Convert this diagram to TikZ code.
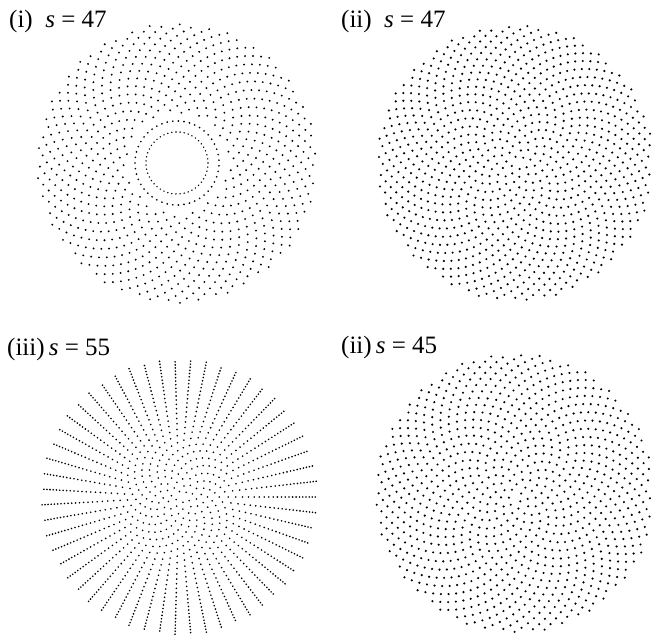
\documentclass[tikz,border=0pt]{standalone}
\usepackage{fontspec}
\setmainfont{Liberation Serif}
\usetikzlibrary{positioning}

\begin{document}
\begin{tikzpicture}[x=1pt,y=-1pt,
  seed/.style={fill=black},
  tag/.style={anchor=base west,inner sep=0pt,font=\fontsize{25}{30}\selectfont}]
\useasboundingbox (0,0) rectangle (651,639);
% (i) two rings of 47, then the spiral
\node[tag] (labA) at (9,28) {(i)\ \ \textit{s} = 47};
\begin{scope}[shift={(177,163)}]
\foreach \k in {1,...,47}
  \fill[seed] ({\fpeval{round(31*cosd(\k*360/47),3)}},{\fpeval{round(31*sind(\k*360/47),3)}}) circle[radius=0.8];
\foreach \k in {1,...,47}
  \fill[seed] ({\fpeval{round(42*cosd((\k+0.5)*360/47),3)}},{\fpeval{round(42*sind((\k+0.5)*360/47),3)}}) circle[radius=0.95];
\foreach \n in {1,...,808}
  \fill[seed] ({\fpeval{round(sqrt(2500+21.16*\n)*cosd(\n*137.50776),3)}},{\fpeval{round(sqrt(2500+21.16*\n)*sind(\n*137.50776),3)}}) circle[radius=1.05];
\end{scope}
% (ii)
\node[tag] (labB) at (341,28) {(ii)\ \ \textit{s} = 47};
\begin{scope}[shift={(515,163)}]
\foreach \n in {1,...,1000}
  \fill[seed] ({\fpeval{round(4.37*sqrt(\n)*cosd(\n*137.50776),3)}},{\fpeval{round(4.37*sqrt(\n)*sind(\n*137.50776),3)}}) circle[radius=1.2];
\end{scope}
% (iii) 55 spokes
\node[tag] (labC) at (7,355) {(iii)\,\textit{s} = 55};
\begin{scope}[shift={(179,497)}]
\foreach \n in {1,...,1300}
  \fill[seed] ({\fpeval{round(3.83*sqrt(\n)*cosd(\n*7560/55),3)}},{\fpeval{round(3.83*sqrt(\n)*sind(\n*7560/55),3)}}) circle[radius=0.9];
\end{scope}
% (iv)
\node[tag] (labD) at (341,353) {(ii)\,\textit{s} = 45};
\begin{scope}[shift={(515,493)}]
\foreach \n in {1,...,1000}
  \fill[seed] ({\fpeval{round(4.42*sqrt(\n)*cosd(\n*137.50776+90),3)}},{\fpeval{round(4.42*sqrt(\n)*sind(\n*137.50776+90),3)}}) circle[radius=1.2];
\end{scope}
\end{tikzpicture}
\end{document}
